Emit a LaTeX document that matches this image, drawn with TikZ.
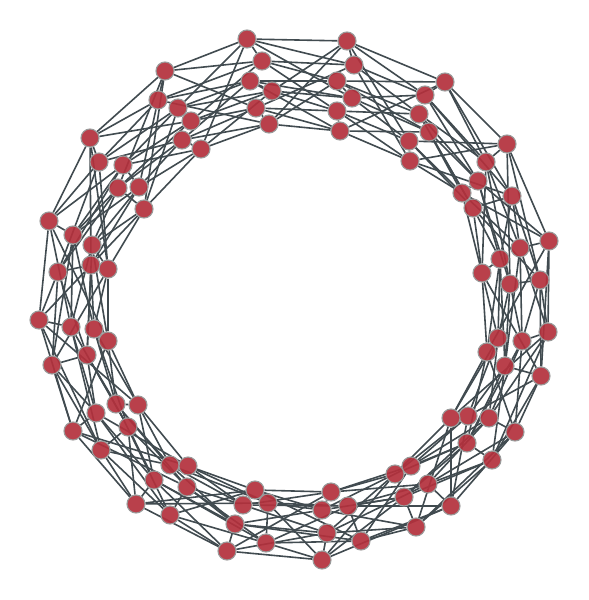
\documentclass[tikz,border=0pt]{standalone}
\usetikzlibrary{backgrounds}
\definecolor{nodered}{HTML}{B3303C}
\definecolor{noderim}{HTML}{9A9A9A}
\definecolor{linkgray}{HTML}{414B50}
\begin{document}
\begin{tikzpicture}[x=1pt,y=-1pt,
  vert/.style={circle,fill=nodered,fill opacity=0.92,draw=noderim,line width=1.1pt,minimum size=18pt,inner sep=0pt},
  link/.style={draw=linkgray,line width=1.6pt}]
\useasboundingbox (0,0) rectangle (589,600);
% group 0
\node[vert] (g0r0) at (247,39) {};
\node[vert] (g0r1) at (262,61) {};
\node[vert] (g0r2) at (250,81) {};
\node[vert] (g0r3) at (272,91) {};
\node[vert] (g0r4) at (256,108) {};
\node[vert] (g0r5) at (269,124) {};
% group 1
\node[vert] (g1r0) at (347,41) {};
\node[vert] (g1r1) at (354,65) {};
\node[vert] (g1r2) at (337,81) {};
\node[vert] (g1r3) at (352,98) {};
\node[vert] (g1r4) at (337,111) {};
\node[vert] (g1r5) at (340,131) {};
% group 2
\node[vert] (g2r0) at (445,82) {};
\node[vert] (g2r1) at (425,95) {};
\node[vert] (g2r2) at (419,114) {};
\node[vert] (g2r3) at (429,132) {};
\node[vert] (g2r4) at (409,141) {};
\node[vert] (g2r5) at (410,161) {};
% group 3
\node[vert] (g3r0) at (507,144) {};
\node[vert] (g3r1) at (512,196) {};
\node[vert] (g3r2) at (486,162) {};
\node[vert] (g3r3) at (478,181) {};
\node[vert] (g3r4) at (473,208) {};
\node[vert] (g3r5) at (462,193) {};
% group 4
\node[vert] (g4r0) at (549,241) {};
\node[vert] (g4r1) at (540,280) {};
\node[vert] (g4r2) at (520,248) {};
\node[vert] (g4r3) at (510,284) {};
\node[vert] (g4r4) at (500,259) {};
\node[vert] (g4r5) at (482,273) {};
% group 5
\node[vert] (g5r0) at (541,376) {};
\node[vert] (g5r1) at (548,332) {};
\node[vert] (g5r2) at (522,341) {};
\node[vert] (g5r3) at (505,366) {};
\node[vert] (g5r4) at (498,338) {};
\node[vert] (g5r5) at (487,352) {};
% group 6
\node[vert] (g6r0) at (515,432) {};
\node[vert] (g6r1) at (492,460) {};
\node[vert] (g6r2) at (489,418) {};
\node[vert] (g6r3) at (467,443) {};
\node[vert] (g6r4) at (468,416) {};
\node[vert] (g6r5) at (451,418) {};
% group 7
\node[vert] (g7r0) at (451,506) {};
\node[vert] (g7r1) at (416,527) {};
\node[vert] (g7r2) at (428,484) {};
\node[vert] (g7r3) at (404,497) {};
\node[vert] (g7r4) at (411,466) {};
\node[vert] (g7r5) at (395,474) {};
% group 8
\node[vert] (g8r0) at (322,560) {};
\node[vert] (g8r1) at (361,541) {};
\node[vert] (g8r2) at (327,533) {};
\node[vert] (g8r3) at (348,506) {};
\node[vert] (g8r4) at (322,510) {};
\node[vert] (g8r5) at (331,492) {};
% group 9
\node[vert] (g9r0) at (227,551) {};
\node[vert] (g9r1) at (266,543) {};
\node[vert] (g9r2) at (235,524) {};
\node[vert] (g9r3) at (243,505) {};
\node[vert] (g9r4) at (268,503) {};
\node[vert] (g9r5) at (255,490) {};
% group 10
\node[vert] (g10r0) at (136,504) {};
\node[vert] (g10r1) at (170,515) {};
\node[vert] (g10r2) at (154,480) {};
\node[vert] (g10r3) at (187,487) {};
\node[vert] (g10r4) at (170,465) {};
\node[vert] (g10r5) at (188,466) {};
% group 11
\node[vert] (g11r0) at (73,431) {};
\node[vert] (g11r1) at (101,450) {};
\node[vert] (g11r2) at (96,413) {};
\node[vert] (g11r3) at (128,427) {};
\node[vert] (g11r4) at (116,404) {};
\node[vert] (g11r5) at (138,405) {};
% group 12
\node[vert] (g12r0) at (39,320) {};
\node[vert] (g12r1) at (52,365) {};
\node[vert] (g12r2) at (71,327) {};
\node[vert] (g12r3) at (87,355) {};
\node[vert] (g12r4) at (94,329) {};
\node[vert] (g12r5) at (108,341) {};
% group 13
\node[vert] (g13r0) at (49,221) {};
\node[vert] (g13r1) at (58,272) {};
\node[vert] (g13r2) at (73,235) {};
\node[vert] (g13r3) at (92,245) {};
\node[vert] (g13r4) at (91,265) {};
\node[vert] (g13r5) at (108,269) {};
% group 14
\node[vert] (g14r0) at (90,138) {};
\node[vert] (g14r1) at (99,162) {};
\node[vert] (g14r2) at (123,165) {};
\node[vert] (g14r3) at (118,188) {};
\node[vert] (g14r4) at (139,187) {};
\node[vert] (g14r5) at (144,209) {};
% group 15
\node[vert] (g15r0) at (165,71) {};
\node[vert] (g15r1) at (158,100) {};
\node[vert] (g15r2) at (178,108) {};
\node[vert] (g15r3) at (191,121) {};
\node[vert] (g15r4) at (182,140) {};
\node[vert] (g15r5) at (201,149) {};
\begin{scope}[on background layer]
% links between neighbouring groups
\foreach \g/\s in {0/3,1/4,2/2,3/3,4/5,5/4,6/2,7/3,8/4,9/2,10/3,11/5,12/4,13/2,14/3,15/4}{
  \pgfmathtruncatemacro\h{mod(\g+1,16)}
  \foreach \a in {0,...,5}{
    \pgfmathtruncatemacro\b{mod(\a+1,6)}
    \pgfmathtruncatemacro\c{mod(\a+\s,6)}
    \draw[link] (g\g r\a) -- (g\h r\a);
    \draw[link] (g\g r\a) -- (g\h r\b);
    \draw[link] (g\g r\a) -- (g\h r\c);
  }
}
% links inside groups
\foreach \g/\a/\b in {0/0/1,0/2/3,0/4/5,1/0/1,1/2/3,1/4/5,2/0/1,2/2/3,2/4/5,
  3/0/2,3/3/5,3/1/4,4/0/2,4/1/3,4/4/5,5/1/2,5/0/3,5/4/5,6/0/2,6/1/3,6/4/5,
  7/0/2,7/1/3,7/4/5,8/0/2,8/1/3,8/4/5,9/0/2,9/1/4,9/3/5,10/0/2,10/1/3,10/4/5,
  11/0/2,11/1/3,11/4/5,12/0/2,12/1/3,12/4/5,13/0/2,13/1/4,13/3/5,
  14/0/1,14/2/4,14/3/5,15/0/1,15/2/3,15/4/5}{
  \draw[link] (g\g r\a) -- (g\g r\b);
}
\end{scope}
\end{tikzpicture}
\end{document}
